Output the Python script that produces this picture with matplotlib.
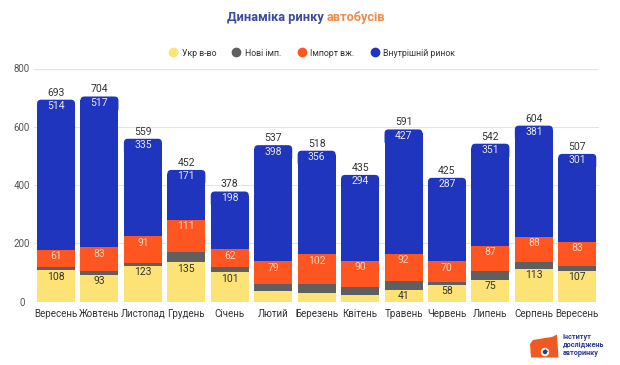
import matplotlib
matplotlib.use("Agg")
import matplotlib.pyplot as plt
from matplotlib.patches import FancyBboxPatch, Polygon, Circle
from matplotlib.lines import Line2D
import numpy as np

plt.rcParams['font.family'] = ['Roboto', 'DejaVu Sans']

months = ["Вересень", "Жовтень", "Листопад", "Грудень", "Січень", "Лютий", "Березень",
          "Квітень", "Травень", "Червень", "Липень", "Серпень", "Вересень"]
ukr = [108, 93, 123, 135, 101, 36, 30, 22, 41, 58, 75, 113, 107]
new_imp = [10, 11, 10, 35, 17, 24, 30, 29, 31, 10, 29, 22, 16]
used_imp = [61, 83, 91, 111, 62, 79, 102, 90, 92, 70, 87, 88, 83]
domestic = [514, 517, 335, 171, 198, 398, 356, 294, 427, 287, 351, 381, 301]
totals = [693, 704, 559, 452, 378, 537, 518, 435, 591, 425, 542, 604, 507]
ukr_show = [True, True, True, True, True, False, False, False, True, True, True, True, True]
series_names = ["Укр в-во", "Нові імп.", "Імпорт вж.", "Внутрішній ринок"]

c_yellow = "#fde276"
c_gray = "#5f5f5f"
c_orange = "#ff5520"
c_blue = "#1f35be"

W, H = 620, 365
fig = plt.figure(figsize=(W / 100, H / 100), dpi=100)
fig.patch.set_facecolor("white")
ax = fig.add_axes([34.3 / W, 1 - 301.7 / H, (599 - 34.3) / W, (301.7 - 68.5) / H])

x = np.arange(len(months))
bw = 0.875
ukr_a = np.array(ukr)
new_a = np.array(new_imp)
used_a = np.array(used_imp)
dom_a = np.array(domestic)

b1 = ax.bar(x, ukr_a, bw, color=c_yellow, zorder=2)
b2 = ax.bar(x, new_a, bw, bottom=ukr_a, color=c_gray, zorder=2)
b3 = ax.bar(x, used_a, bw, bottom=ukr_a + new_a, color=c_orange, zorder=2)
base4 = ukr_a + new_a + used_a

ax.set_xlim(-0.5, len(months) - 0.5)
ax.set_ylim(0, 800)

# rounded top for the blue segment
ypp = 800 / 233.2
xpp = 13 / 564.7
r_px = 4
ry = r_px * ypp
rx = r_px * xpp
b4 = ax.bar(x, dom_a - ry, bw, bottom=base4, color=c_blue, zorder=2)
for i in range(len(x)):
    top = base4[i] + dom_a[i]
    p = FancyBboxPatch((x[i] - bw / 2 + rx, top - 3 * ry), bw - 2 * rx, 2 * ry,
                       boxstyle=f"round,pad={rx},rounding_size={rx}",
                       mutation_aspect=ypp / xpp, fc=c_blue, ec="none", zorder=2)
    ax.add_patch(p)

ax.set_yticks([0, 200, 400, 600, 800])
ax.grid(axis="y", color="#e4e4e4", linewidth=0.8, zorder=0)
ax.set_axisbelow(True)
for s in ax.spines.values():
    s.set_visible(False)
ax.tick_params(axis="both", length=0)
ax.tick_params(axis="y", labelsize=7, labelcolor="#555555", pad=9)
for t in ax.get_yticklabels():
    t.set_horizontalalignment("center")
ax.set_xticks(x)
ax.set_xticklabels(months)
ax.tick_params(axis="x", labelsize=7, labelcolor="#333333", pad=5)

off = -4.6
for i in range(len(x)):
    ax.annotate(str(totals[i]), (x[i], base4[i] + dom_a[i]), xytext=(0, 1.5),
                textcoords="offset points", ha="center", va="bottom",
                fontsize=7.5, color="#333333", zorder=5)
    ax.annotate(str(domestic[i]), (x[i], base4[i] + dom_a[i]), xytext=(0, off),
                textcoords="offset points", ha="center", va="center",
                fontsize=7.5, color="#e8e8f4", zorder=5)
    ax.annotate(str(used_imp[i]), (x[i], base4[i]), xytext=(0, off),
                textcoords="offset points", ha="center", va="center",
                fontsize=7.5, color="#ffd8c8", zorder=5)
    if ukr_show[i]:
        ax.annotate(str(ukr[i]), (x[i], ukr[i]), xytext=(0, off),
                    textcoords="offset points", ha="center", va="center",
                    fontsize=7.5, color="#333333", zorder=5)

# title
fig.text(324 / W, 1 - 18 / H, "Динаміка ринку", ha="right", va="center",
         fontsize=9.2, fontweight="bold", color="#3b4a9e")
fig.text(327 / W, 1 - 18 / H, "автобусів", ha="left", va="center",
         fontsize=9.2, fontweight="bold", color="#ef8a4e")

# legend
handles = [Line2D([0], [0], marker="o", linestyle="none", markersize=6,
                  markerfacecolor=c, markeredgecolor=c)
           for c in [c_yellow, c_gray, c_orange, c_blue]]
fig.legend(handles, series_names, loc="center", bbox_to_anchor=(312 / W, 1 - 53 / H),
           ncol=4, frameon=False, fontsize=6.3, handlelength=1.0, handletextpad=0.5,
           columnspacing=1.8, labelcolor="#333333")

# logo
lax = fig.add_axes([0, 0, 1, 1], zorder=10)
lax.set_xlim(0, W)
lax.set_ylim(H, 0)
lax.axis("off")
lax.patch.set_alpha(0)
lax.add_patch(Polygon([[530, 344], [533, 340], [545, 338], [552, 337], [557, 334.5],
                       [558.5, 357.5], [531, 357.5]], closed=True, fc="#f05a22", ec="none"))
lax.add_patch(Circle((545, 352), 4.2, fc="#f6f6f6", ec="none"))
lax.add_patch(Polygon([[545, 352], [545, 348.3], [548.7, 352]], closed=True,
                      fc="#f05a22", ec="none"))
lax.add_patch(Circle((545, 352), 2.2, fc="#2b3990", ec="none"))
for j, s in enumerate(["Інститут", "досліджень", "авторинку"]):
    lax.text(562.5, 336.7 + j * 8, s, fontsize=5.2, fontweight="bold", color="#2b3990",
             ha="left", va="center")

fig.savefig("out.png", dpi=100, facecolor="white")
